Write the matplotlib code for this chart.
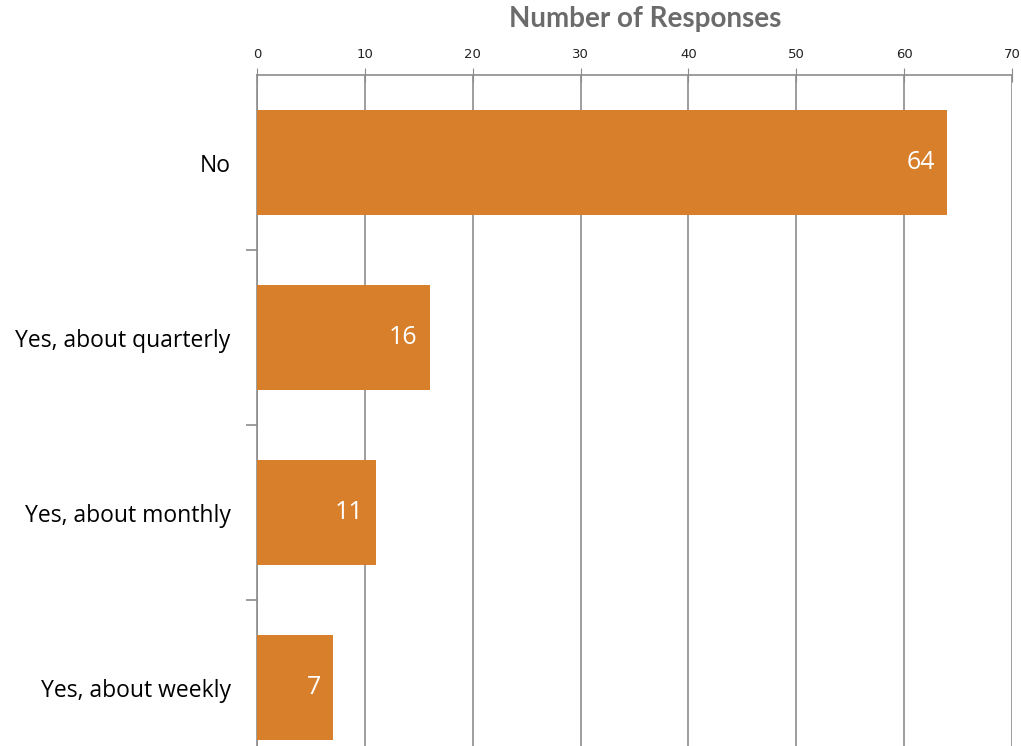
import matplotlib.pyplot as plt
from matplotlib.ticker import FixedLocator

categories = ["No", "Yes, about quarterly", "Yes, about monthly", "Yes, about weekly"]
responses = [64, 16, 11, 7]
x_ticks = [0, 10, 20, 30, 40, 50, 60, 70]

bar_color = "#D77F2B"
grid_color = "#8C8C8C"

fig = plt.figure(figsize=(10.21, 7.46), dpi=100)
ax = fig.add_axes([257 / 1021, 0, (1012 - 257) / 1021, 1 - 75 / 746])

ypos = list(range(len(categories)))
bars = ax.barh(ypos, responses, height=0.6, color=bar_color, zorder=3)

ax.set_xlim(0, 70)
# bottom of the chart is cut off in the original, so the last band is partial
ax.set_ylim(3.334, -0.5)

ax.xaxis.tick_top()
ax.set_xticks(x_ticks)
ax.tick_params(axis="x", direction="inout", length=10, color=grid_color,
               labelsize=9.5, pad=5, labelcolor="#222222")
ax.grid(axis="x", color=grid_color, linewidth=1.2, zorder=0)

ax.set_yticks(ypos)
ax.set_yticklabels(categories, fontsize=16.5, fontfamily="Open Sans")
ax.tick_params(axis="y", length=0, pad=19)
ax.yaxis.set_minor_locator(FixedLocator([0.5, 1.5, 2.5]))
ax.tick_params(axis="y", which="minor", length=8, color=grid_color, width=1.2)

for side in ["right", "bottom"]:
    ax.spines[side].set_visible(False)
for side in ["top", "left"]:
    ax.spines[side].set_color(grid_color)
    ax.spines[side].set_linewidth(1.2)

for y, v in zip(ypos, responses):
    ax.text(v - 1.1, y, str(v), ha="right", va="center", color="white",
            fontsize=18, fontfamily="Open Sans", zorder=4)

fig.text(645 / 1021, 0.975, "Number of Responses", ha="center", va="center",
         fontsize=20, fontweight="bold", color="#6B6B6B", fontfamily="Lato")

fig.savefig("out.png", dpi=100)
